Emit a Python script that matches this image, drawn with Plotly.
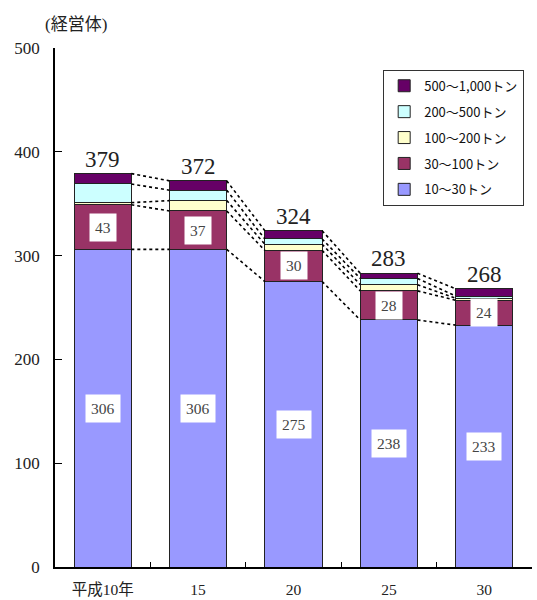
import plotly.graph_objects as go

# Survey years (Heisei era) and number of management bodies by vessel tonnage class
years = ["平成10年", "15", "20", "25", "30"]
t10_30 = [306, 306, 275, 238, 233]
t30_100 = [43, 37, 30, 28, 24]
t100_200 = [2, 10, 6, 6, 2]
t200_500 = [18, 10, 5, 6, 2]
t500_1000 = [10, 9, 8, 5, 7]
totals = [379, 372, 324, 283, 268]

series = [
    ("10～30トン", t10_30, "#9999FF"),
    ("30～100トン", t30_100, "#993366"),
    ("100～200トン", t100_200, "#FFFFCC"),
    ("200～500トン", t200_500, "#CCFFFF"),
    ("500～1,000トン", t500_1000, "#660066"),
]

SERIF = "Liberation Serif, Noto Sans CJK JP, serif"
SANS = "Noto Sans CJK JP, sans-serif"
BAR_W = 0.6
xpos = list(range(len(years)))

fig = go.Figure()

# Dotted connectors between the cumulative segment tops of neighbouring bars
cum = [0] * len(years)
levels = []
for _, vals, _ in series:
    cum = [c + v for c, v in zip(cum, vals)]
    levels.append(list(cum))
for lvl in levels:
    for i in range(len(years) - 1):
        fig.add_trace(go.Scatter(
            x=[xpos[i] + BAR_W / 2, xpos[i + 1] - BAR_W / 2],
            y=[lvl[i], lvl[i + 1]],
            mode="lines",
            line=dict(color="black", width=1.6, dash="3px,3px"),
            showlegend=False, hoverinfo="skip",
        ))

# Stacked bars
for k, (name, vals, color) in enumerate(series):
    fig.add_trace(go.Bar(
        x=xpos, y=vals, name=name, width=BAR_W,
        marker=dict(color=color, line=dict(color="#222222", width=1)),
        legendgroup=f"g{k}",
        legendrank=100 - k,
    ))

# Value labels inside the two lowest segments
for i in xpos:
    fig.add_annotation(x=i, y=t10_30[i] / 2, text=str(t10_30[i]), showarrow=False,
                       font=dict(family=SERIF, size=15.5, color="#444444"),
                       bgcolor="white", borderpad=5)
    fig.add_annotation(x=i, y=t10_30[i] + t30_100[i] / 2, text=str(t30_100[i]), showarrow=False,
                       font=dict(family=SERIF, size=15.5, color="#444444"),
                       bgcolor="white", borderpad=5)
    # Totals above each bar
    fig.add_annotation(x=i, y=totals[i], text=str(totals[i]), showarrow=False,
                       yanchor="bottom", yshift=0,
                       font=dict(family=SERIF, size=23, color="#222222"))

# Unit label
fig.add_annotation(xref="paper", yref="paper", x=-0.025, y=1.0, yshift=12,
                   text="(経営体)", showarrow=False, xanchor="left", yanchor="bottom",
                   font=dict(family=SERIF, size=17, color="#222222"))

fig.update_layout(
    width=537, height=600,
    margin=dict(l=54.5, r=5, t=48, b=33),
    barmode="stack",
    plot_bgcolor="white", paper_bgcolor="white",
    legend=dict(
        x=0.688, y=0.958, xanchor="left", yanchor="top",
        bgcolor="white", bordercolor="#333333", borderwidth=1,
        font=dict(family=SANS, size=13, color="#111111"),
        tracegroupgap=6, traceorder="grouped",
        itemwidth=30,
    ),
)

fig.update_xaxes(
    range=[-0.5, len(years) - 0.5], automargin=False,
    tickmode="array", tickvals=xpos, ticktext=years,
    ticks="", showline=True, linecolor="black", linewidth=1.5,
    showgrid=False, zeroline=False,
    tickfont=dict(family=SERIF, size=15.5, color="#222222"),
    ticklabelstandoff=8,
    minor=dict(tickmode="array", tickvals=[i + 0.5 for i in xpos[:-1]],
               ticks="inside", ticklen=5, tickcolor="black", tickwidth=1.2),
)
fig.update_yaxes(
    range=[0, 500], tickmode="array", tickvals=[0, 100, 200, 300, 400, 500],
    automargin=False,
    ticks="inside", ticklen=7, tickcolor="black", tickwidth=1.2,
    showline=True, linecolor="black", linewidth=1.5,
    showgrid=False, zeroline=False,
    tickfont=dict(family=SERIF, size=17, color="#222222"),
    ticklabelstandoff=10,
)

fig.write_html("out.html")
